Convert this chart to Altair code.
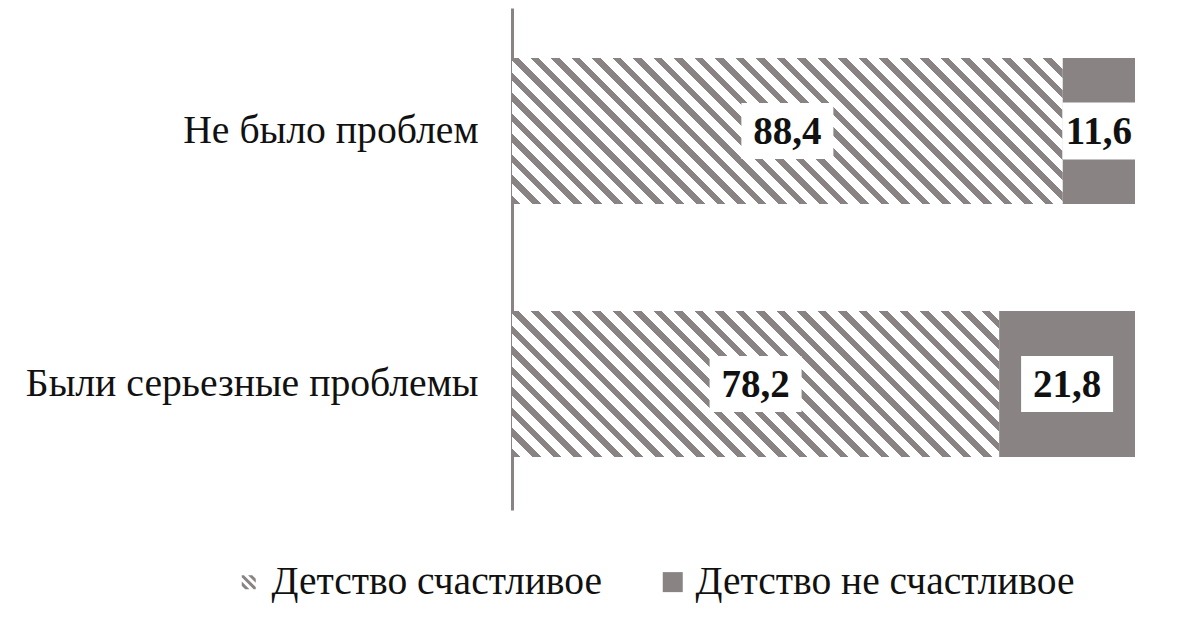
import altair as alt
import pandas as pd

categories = ["Не было проблем", "Были серьезные проблемы"]
series = ["Детство счастливое", "Детство не счастливое"]
happy = [88.4, 78.2]
unhappy = [11.6, 21.8]

GRAY = "#898483"
FONT = "Liberation Serif"

rows = []
for ci, cat in enumerate(categories):
    for si, vals in enumerate([happy, unhappy]):
        rows.append({"cat": cat, "ci": ci, "series": series[si], "order": si, "value": vals[ci]})
df = pd.DataFrame(rows)

PLOT_W = 623
PLOT_H = 502
BAR_H = 146


def hatch(W, H, period=20.5, g=8.5, phase=0.0):
    L = W + H
    c = L * W / (W * W + H * H)
    stops = [{"offset": 0, "color": "white"}]
    u = phase
    while u < L:
        a = round(max(u, 0) / L, 5)
        b = round(min(u + g, L) / L, 5)
        stops += [
            {"offset": a, "color": "white"},
            {"offset": a, "color": GRAY},
            {"offset": b, "color": GRAY},
            {"offset": b, "color": "white"},
        ]
        u += period
    stops.append({"offset": 1, "color": "white"})
    return {"gradient": "linear", "x1": 0, "y1": 1, "x2": round(c, 5),
            "y2": round(1 - c * H / W, 5), "stops": stops}


conds = []
for ci in range(len(categories)):
    W = happy[ci] / 100.0 * PLOT_W
    conds.append({"test": f"datum.order === 0 && datum.ci === {ci}", "value": hatch(W, BAR_H)})

# hatched legend icon path (scaled stripes)
s = 0.7
def pt(x, y):
    return f"{x*s:.3f},{y*s:.3f}"
stripes = (
    "M" + pt(-1, -1) + "L" + pt(-0.7, -1) + "L" + pt(1, 0.7) + "L" + pt(1, 1) + "L" + pt(0.7, 1) + "L" + pt(-1, -0.7) + "Z"
    + "M" + pt(-0.1, -1) + "L" + pt(0.5, -1) + "L" + pt(1, -0.5) + "L" + pt(1, 0.1) + "Z"
    + "M" + pt(-1, -0.1) + "L" + pt(0.1, 1) + "L" + pt(-0.5, 1) + "L" + pt(-1, 0.5) + "Z"
)

BOX = 92
box_big = f"M-1,-{56/BOX:.4f}L1,-{56/BOX:.4f}L1,{56/BOX:.4f}L-1,{56/BOX:.4f}Z"
sw = 73 / BOX
box_small = f"M-{sw:.4f},-{57/BOX:.4f}L{sw:.4f},-{57/BOX:.4f}L{sw:.4f},{57/BOX:.4f}L-{sw:.4f},{57/BOX:.4f}Z"

base = alt.Chart(df).transform_stack(
    stack="value", as_=["x0", "x1"], groupby=["cat"], sort=[alt.SortField("order")]
).transform_calculate(
    mid="(datum.x0 + datum.x1) / 2",
    label="replace(format(datum.value, '.1f'), '.', ',')",
)

yenc = alt.Y(
    "cat:N",
    sort=categories,
    scale=alt.Scale(paddingInner=0.423, paddingOuter=0.2036, align=0.485),
    axis=alt.Axis(
        title=None, ticks=False, tickSize=0, labelPadding=34, labelFont=FONT,
        labelFontSize=39.7, labelColor="#111111", labelLimit=0, domainColor=GRAY,
        domainWidth=3, grid=False,
    ),
)
xscale = alt.Scale(domain=[0, 100], nice=False, zero=True)

fill_scale = alt.Scale(domain=series, range=[GRAY, GRAY])

leg = alt.Legend(
    title=None, orient="none", direction="horizontal", legendX=-283, legendY=554,
    labelFont=FONT, labelFontSize=39.5, labelColor="#111111", labelLimit=600,
    symbolSize=400, symbolStrokeWidth=0, labelOffset=3, columnPadding=51, padding=0,
)

bars = base.mark_bar(strokeWidth=0, size=BAR_H).encode(
    x=alt.X("x0:Q", scale=xscale, axis=None),
    x2="x1:Q",
    y=yenc,
    fill=alt.Fill("series:N", scale=fill_scale, legend=leg, condition=conds),
)

legend_layer = alt.Chart(df).transform_filter("false").mark_point(filled=True, opacity=1, strokeWidth=0).encode(
    fill=alt.Fill("series:N", scale=fill_scale, legend=leg),
    shape=alt.Shape("series:N", scale=alt.Scale(domain=series, range=[stripes, "square"]), legend=leg),
)

boxes = base.mark_point(filled=True, opacity=1, strokeWidth=0, fill="white").encode(
    x=alt.X("mid:Q", scale=xscale),
    y=alt.Y("cat:N", sort=categories),
    shape=alt.ShapeValue(box_big, condition={"test": "datum.value < 15", "value": box_small}),
    size=alt.value(BOX * BOX),
)

texts = base.mark_text(font=FONT, fontSize=39, fontWeight="bold", color="#111111", baseline="middle", dy=1).encode(
    x=alt.X("mid:Q", scale=xscale),
    y=alt.Y("cat:N", sort=categories),
    text="label:N",
)

chart = alt.layer(bars, boxes, texts, legend_layer).properties(
    width=PLOT_W, height=PLOT_H,
    autosize=alt.AutoSizeParams(type="none"),
    padding={"left": 504, "top": 0, "right": 34, "bottom": 102},
    background="white",
).configure_view(stroke=None)

chart.save("out.html", embed_options={"renderer": "svg", "actions": False})
